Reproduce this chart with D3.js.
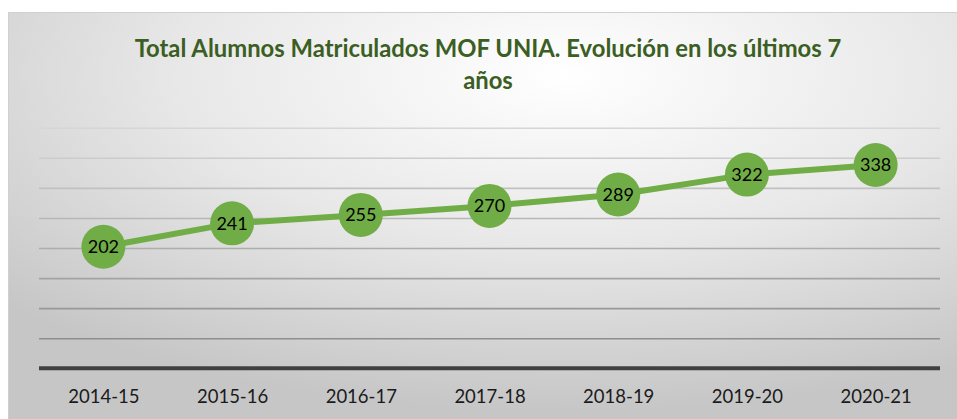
<!DOCTYPE html>
<html>
<head>
<meta charset="utf-8">
<script src="https://cdn.jsdelivr.net/npm/d3@7"></script>
<style>
  body { margin: 0; background: #fff; }
  svg { display: block; }
</style>
</head>
<body>
<svg id="chart" width="957" height="419"></svg>
<script>
var years = ["2014-15", "2015-16", "2016-17", "2017-18", "2018-19", "2019-20", "2020-21"];
var alumnos = [202, 241, 255, 270, 289, 322, 338];
var gridValues = [50, 100, 150, 200, 250, 300, 350, 400];
var titleLines = ["Total Alumnos Matriculados MOF UNIA. Evolución en los últimos 7", "años"];

var svg = d3.select("#chart");
var plotLeft = 39, plotRight = 940, plotTop = 127.7, plotBottom = 368.3;

// background gradient
var defs = svg.append("defs");
var grad = defs.append("radialGradient")
    .attr("id", "bg")
    .attr("cx", 0.58).attr("cy", 0.15).attr("r", 0.8);
grad.append("stop").attr("offset", 0).attr("stop-color", "#ffffff");
grad.append("stop").attr("offset", 0.5).attr("stop-color", "#e8e8e8");
grad.append("stop").attr("offset", 1).attr("stop-color", "#c6c6c6");

svg.append("rect")
    .attr("x", 8.5).attr("y", 12.5)
    .attr("width", 960).attr("height", 420)
    .attr("fill", "url(#bg)")
    .attr("stroke", "#d0d0d0")
    .attr("stroke-width", 1);

var x = d3.scalePoint().domain(years).range([plotLeft, plotRight]).padding(0.5);
var y = d3.scaleLinear().domain([0, 400]).range([plotBottom, plotTop]);

// gridlines
var gridColor = d3.scaleLinear().domain([50, 400]).range(["#8e8e8e", "#d6d6d6"]);
var grid = svg.append("g")
    .attr("transform", "translate(" + plotLeft + ",0)")
    .call(d3.axisLeft(y).tickValues(gridValues).tickSize(-(plotRight - plotLeft)).tickFormat(""));
grid.select(".domain").remove();
grid.selectAll(".tick line")
    .attr("stroke", function (d) { return gridColor(d); })
    .attr("stroke-width", 1.6);

// x axis
var xAxis = svg.append("g")
    .attr("transform", "translate(0," + plotBottom + ")")
    .call(d3.axisBottom(x).tickSize(0));
xAxis.select(".domain").remove();
xAxis.append("line")
    .attr("x1", plotLeft).attr("x2", plotRight)
    .attr("stroke", "#404040")
    .attr("stroke-width", 4);
xAxis.selectAll(".tick text")
    .attr("y", 35)
    .attr("dy", 0)
    .style("font-family", "Lato, sans-serif")
    .style("font-size", "18.5px")
    .attr("fill", "#1a1a1a");

// line
var line = d3.line()
    .x(function (d, i) { return x(years[i]); })
    .y(function (d) { return y(d); });

svg.append("path")
    .datum(alumnos)
    .attr("d", line)
    .attr("fill", "none")
    .attr("stroke", "#70ad47")
    .attr("stroke-width", 6)
    .attr("stroke-linejoin", "round");

// markers
var pts = svg.selectAll(".pt")
    .data(alumnos)
    .enter()
    .append("g")
    .attr("class", "pt")
    .attr("transform", function (d, i) {
        return "translate(" + x(years[i]) + "," + y(d) + ")";
    });

pts.append("circle")
    .attr("r", 22)
    .attr("fill", "#70ad47");

pts.append("text")
    .text(function (d) { return d; })
    .attr("text-anchor", "middle")
    .attr("y", 6.5)
    .style("font-family", "Lato, sans-serif")
    .style("font-size", "18px")
    .attr("fill", "#000");

// title
var title = svg.append("text")
    .attr("text-anchor", "middle")
    .style("font-family", "Lato, sans-serif")
    .style("font-weight", "bold")
    .style("font-size", "22px")
    .attr("fill", "#3b5e23");

title.selectAll("tspan")
    .data(titleLines)
    .enter()
    .append("tspan")
    .attr("x", 488)
    .attr("y", function (d, i) { return 57 + i * 32; })
    .text(function (d) { return d; });

// size the title so the first line spans the same width as the original
var first = title.select("tspan").node();
var w = first.getComputedTextLength();
title.style("font-size", (22 * 707 / w).toFixed(2) + "px");
</script>
</body>
</html>
